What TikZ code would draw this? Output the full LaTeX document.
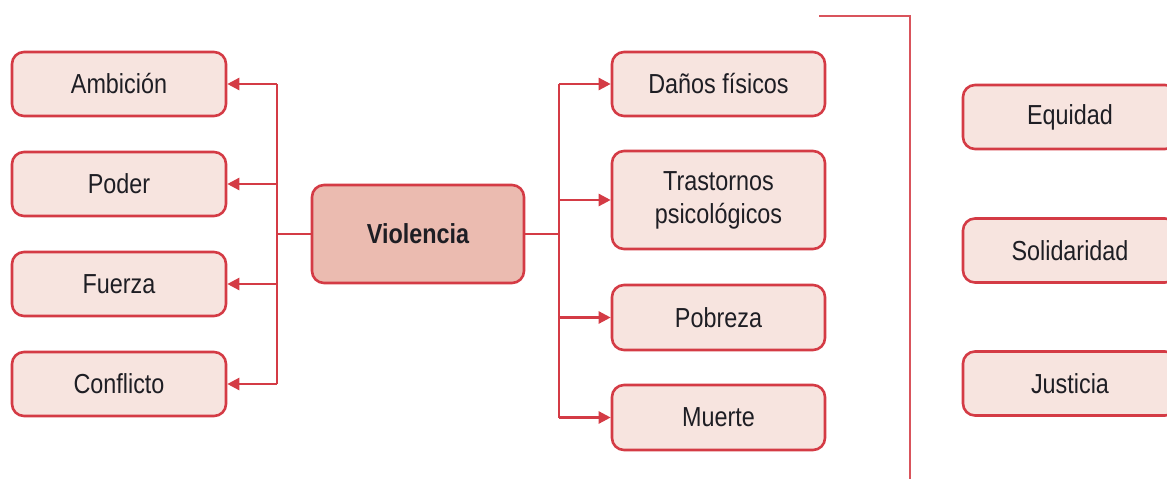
\documentclass[tikz,border=0pt]{standalone}
\usepackage{fontspec}
\setmainfont{Liberation Sans}[FakeStretch=0.85]
\usetikzlibrary{arrows.meta}
\definecolor{edgered}{HTML}{D43B45}
\definecolor{lightfill}{HTML}{F7E4DF}
\definecolor{darkfill}{HTML}{EBBBB0}
\definecolor{txt}{HTML}{1E1E24}
\definecolor{bracketred}{HTML}{D9545C}
\tikzset{
  box/.style={draw=edgered, line width=2.6pt, fill=lightfill, rounded corners=12pt,
    minimum width=214pt, minimum height=64pt, inner sep=0pt, text=txt,
    font=\fontsize{27.5}{33}\selectfont, align=center},
  mainbox/.style={box, fill=darkfill, minimum width=212pt, minimum height=98pt,
    font=\fontsize{27.5}{33}\selectfont\bfseries},
  link/.style={draw=edgered, line width=2.4pt},
  arr/.style={link, -{Triangle[length=12pt,width=12pt]}},
}
\begin{document}
\begin{tikzpicture}[x=1pt,y=-1pt]
\useasboundingbox (0,0) rectangle (1167,479);
\clip (0,0) rectangle (1167,479);
% left
\node[box] (amb) at (119,84) {Ambición};
\node[box] (pod) at (119,184) {Poder};
\node[box] (fue) at (119,284) {Fuerza};
\node[box] (con) at (119,384) {Conflicto};
\node[mainbox] (vio) at (418,234) {Violencia};
% right
\node[box, minimum width=213pt] (dan) at (718.5,84) {Daños físicos};
\node[box, minimum width=213pt, minimum height=98pt] (tra) at (718.5,200) {Trastornos\\psicológicos};
\node[box, minimum width=213pt, minimum height=65pt] (pob) at (718.5,317.5) {Pobreza};
\node[box, minimum width=213pt, minimum height=65pt] (mue) at (718.5,417.5) {Muerte};
% far right
\node[box] (equ) at (1070,117) {Equidad};
\node[box] (sol) at (1070,250.5) {Solidaridad};
\node[box] (jus) at (1070,383.5) {Justicia};
% left bus
\coordinate (lb) at (277,234);
\draw[link] (vio.west) -- (lb);
\draw[link] (277,84) -- (277,384);
\draw[arr] (277,84) -- (amb.east);
\draw[arr] (277,184) -- (pod.east);
\draw[arr] (277,284) -- (fue.east);
\draw[arr] (277,384) -- (con.east);
% right bus
\coordinate (rb) at (559,234);
\draw[link] (vio.east) -- (rb);
\draw[link] (559,84) -- (559,417.5);
\draw[arr] (559,84) -- (dan.west);
\draw[arr] (559,200) -- (tra.west);
\draw[arr] (559,317.5) -- (pob.west);
\draw[arr] (559,417.5) -- (mue.west);
% bracket
\coordinate (bt) at (819,16);
\coordinate (bc) at (910,16);
\coordinate (bb) at (910,480);
\draw[draw=bracketred, line width=2.4pt] (bt) -- (bc) -- (bb);
\end{tikzpicture}
\end{document}
